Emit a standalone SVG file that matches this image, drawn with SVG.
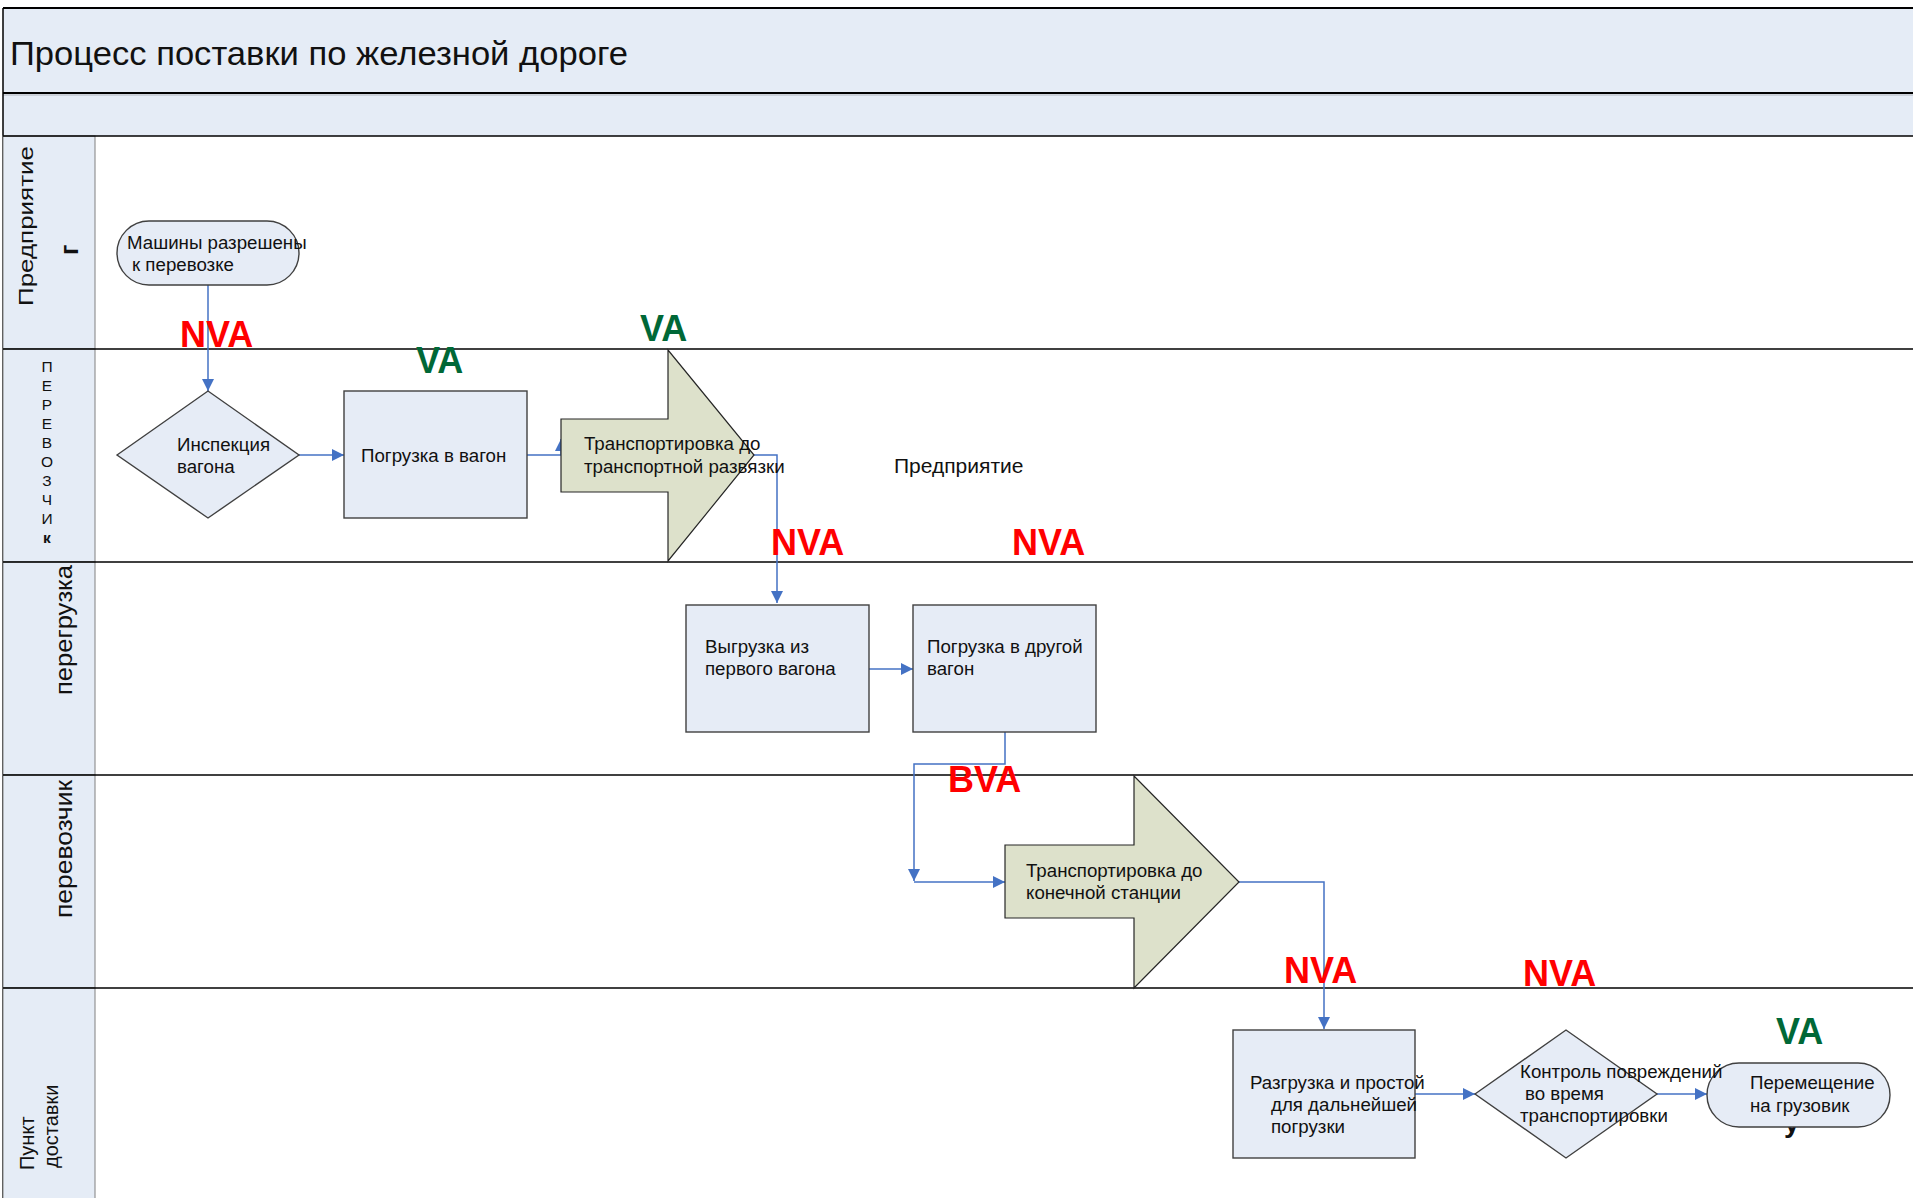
<svg xmlns="http://www.w3.org/2000/svg" width="1913" height="1198" viewBox="0 0 1913 1198">
<defs>
<style>
.hdr{fill:#E5ECF6;stroke:#808080;stroke-width:1}
.node{fill:#E6ECF6;stroke:#404040;stroke-width:1.4}
.shape{fill:#DDE1CB;stroke:#262626;stroke-width:1.2}
.t{font-family:"Liberation Sans",Arial,sans-serif;font-size:18.7px;fill:#111}
.lt{font-family:"Liberation Sans",Arial,sans-serif;fill:#111}
.nva{font-family:"Liberation Sans",Arial,sans-serif;font-weight:bold;font-size:36px;fill:#FF0000}
.va{font-family:"Liberation Sans",Arial,sans-serif;font-weight:bold;font-size:36px;fill:#006837}
.conn{fill:none;stroke:#4472C4;stroke-width:1.5}
.lane{stroke:#000;stroke-width:1.6}
</style>
<marker id="ah" markerUnits="userSpaceOnUse" markerWidth="13" markerHeight="12" refX="12" refY="6" orient="auto">
<path d="M0,0 L12,6 L0,12 Z" fill="#4472C4"/>
</marker>
</defs>
<rect x="0" y="0" width="1913" height="1198" fill="#fff"/>
<g id="frame">
<rect x="3" y="8" width="1915" height="85" fill="#E5ECF6"/>
<rect x="3" y="93" width="1915" height="43" fill="#E5ECF6"/>
<line x1="3" y1="8" x2="1913" y2="8" stroke="#000" stroke-width="2"/>
<line x1="3" y1="93" x2="1913" y2="93" stroke="#000" stroke-width="2"/>
<line x1="3" y1="95" x2="1913" y2="95" stroke="#b0b4bb" stroke-width="1"/>
<line x1="3" y1="8" x2="3" y2="1198" stroke="#000" stroke-width="1.5"/>
<text x="10" y="65" class="lt" font-size="34" textLength="618" lengthAdjust="spacingAndGlyphs">Процесс поставки по железной дороге</text>
</g>
<g id="lanes">
<rect class="hdr" x="3" y="136" width="92" height="213"/>
<rect class="hdr" x="3" y="349" width="92" height="213"/>
<rect class="hdr" x="3" y="562" width="92" height="213"/>
<rect class="hdr" x="3" y="775" width="92" height="213"/>
<rect class="hdr" x="3" y="988" width="92" height="215"/>
<line class="lane" x1="3" y1="136" x2="1913" y2="136"/>
<line class="lane" x1="3" y1="349" x2="1913" y2="349"/>
<line class="lane" x1="3" y1="562" x2="1913" y2="562"/>
<line class="lane" x1="3" y1="775" x2="1913" y2="775"/>
<line class="lane" x1="3" y1="988" x2="1913" y2="988"/>
<g id="lane1-label">
<text class="lt" font-size="21" transform="translate(33,306) rotate(-90)" textLength="160" lengthAdjust="spacingAndGlyphs">Предприятие</text>
<text class="lt" font-size="25" font-weight="bold" transform="translate(78,255) rotate(-90)">г</text>
</g>
<g id="lane2-label" class="lt" font-size="15.5" text-anchor="middle">
<text x="47" y="372">П</text>
<text x="47" y="391">Е</text>
<text x="47" y="410">Р</text>
<text x="47" y="429">Е</text>
<text x="47" y="448">В</text>
<text x="47" y="467">О</text>
<text x="47" y="486">З</text>
<text x="47" y="505">Ч</text>
<text x="47" y="524">И</text>
<text x="47" y="543" font-weight="bold">к</text>
</g>
<text id="lane3-label" class="lt" font-size="24" transform="translate(72,695) rotate(-90)" textLength="130" lengthAdjust="spacingAndGlyphs">перегрузка</text>
<text id="lane4-label" class="lt" font-size="24" transform="translate(72,918) rotate(-90)" textLength="138" lengthAdjust="spacingAndGlyphs">перевозчик</text>
<g id="lane5-label" class="lt" font-size="20">
<text transform="translate(34,1170) rotate(-90)">Пункт</text>
<text transform="translate(58,1168) rotate(-90)">доставки</text>
</g>
</g>
<g id="connectors">
<path class="conn" d="M208,285 V391" marker-end="url(#ah)"/>
<path class="conn" d="M299,455 H344" marker-end="url(#ah)"/>
<path class="conn" d="M527,455 H561 V439" marker-end="url(#ah)"/>
<path class="conn" d="M754,455 H777 V603" marker-end="url(#ah)"/>
<path class="conn" d="M869,669 H913" marker-end="url(#ah)"/>
<path class="conn" d="M1005,732 V764 H914 V881" marker-end="url(#ah)"/>
<path class="conn" d="M914,882 H1005" marker-end="url(#ah)"/>
<path class="conn" d="M1239,882 H1324 V1029" marker-end="url(#ah)"/>
<path class="conn" d="M1415,1094 H1475" marker-end="url(#ah)"/>
<path class="conn" d="M1657,1094 H1707" marker-end="url(#ah)"/>
</g>
<g id="n1">
<rect class="node" x="117" y="221" width="182" height="64" rx="32" ry="32"/>
<text class="t" x="127" y="249">Машины разрешены</text>
<text class="t" x="132" y="271">к перевозке</text>
</g>
<g id="n2">
<polygon class="node" points="117,455 208,391 299,455 208,518" stroke="#1a1a1a"/>
<text class="t" x="177" y="451">Инспекция</text>
<text class="t" x="177" y="473">вагона</text>
</g>
<g id="n3">
<rect class="node" x="344" y="391" width="183" height="127"/>
<text class="t" x="361" y="462">Погрузка в вагон</text>
</g>
<g id="n4">
<path class="shape" d="M561,419 L668,419 L668,350 L754,455 L668,561 L668,492 L561,492 Z"/>
<text class="t" x="584" y="450">Транспортировка до</text>
<text class="t" x="584" y="473">транспортной развязки</text>
</g>
<text id="free-label" class="lt" font-size="21" x="894" y="473">Предприятие</text>
<g id="n5">
<rect class="node" x="686" y="605" width="183" height="127"/>
<text class="t" x="705" y="653">Выгрузка из</text>
<text class="t" x="705" y="675">первого вагона</text>
</g>
<g id="n6">
<rect class="node" x="913" y="605" width="183" height="127"/>
<text class="t" x="927" y="653">Погрузка в другой</text>
<text class="t" x="927" y="675">вагон</text>
</g>
<g id="n7">
<path class="shape" d="M1005,845 L1134,845 L1134,776 L1239,882 L1134,988 L1134,918 L1005,918 Z"/>
<text class="t" x="1026" y="877">Транспортировка до</text>
<text class="t" x="1026" y="899">конечной станции</text>
</g>
<g id="n8">
<rect class="node" x="1233" y="1030" width="182" height="128" stroke="#222"/>
<text class="t" x="1250" y="1089">Разгрузка и простой</text>
<text class="t" x="1271" y="1111">для дальнейшей</text>
<text class="t" x="1271" y="1133">погрузки</text>
</g>
<g id="n10">
<text class="lt" x="1784" y="1132" font-size="28" font-weight="bold">у</text>
<rect class="node" x="1707" y="1063" width="183" height="64" rx="32" ry="32" stroke="#1a1a1a"/>
<text class="t" x="1750" y="1089">Перемещение</text>
<text class="t" x="1750" y="1112">на грузовик</text>
</g>
<g id="n9">
<polygon class="node" points="1475,1094 1566,1030 1657,1094 1566,1158" stroke="#1a1a1a"/>
<text class="t" x="1520" y="1078">Контроль повреждений</text>
<text class="t" x="1525" y="1100">во время</text>
<text class="t" x="1520" y="1122">транспортировки</text>
</g>
<g id="value-labels">
<text class="nva" x="180" y="347">NVA</text>
<text class="va" x="416" y="373">VA</text>
<text class="va" x="640" y="341">VA</text>
<text class="nva" x="771" y="555">NVA</text>
<text class="nva" x="1012" y="555">NVA</text>
<text class="nva" x="948" y="792">BVA</text>
<text class="nva" x="1284" y="983">NVA</text>
<text class="nva" x="1523" y="986">NVA</text>
<text class="va" x="1776" y="1044">VA</text>
</g>
</svg>
